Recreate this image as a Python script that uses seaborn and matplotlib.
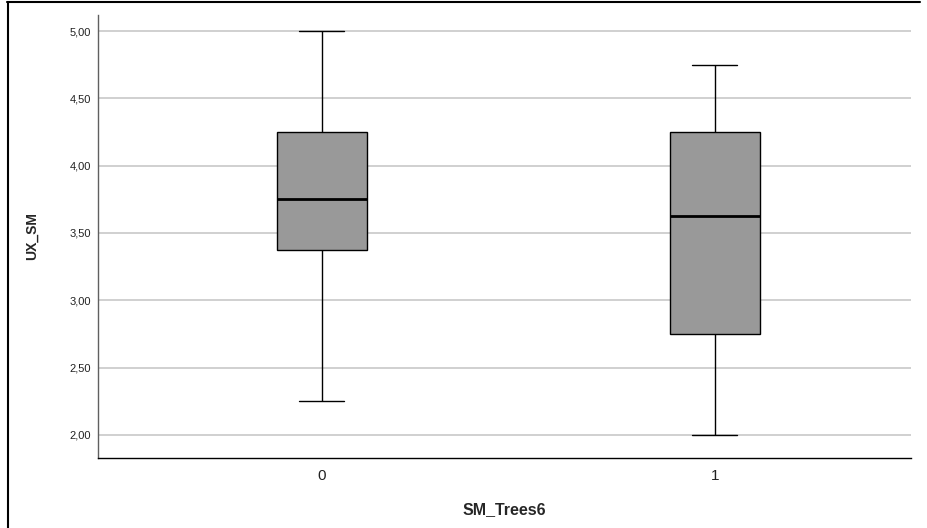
import pandas as pd
import matplotlib.pyplot as plt
import matplotlib.lines as mlines
import seaborn as sns


# ---------------------------------
# DATA
# ---------------------------------

groups = ["0", "1"]

# each list gives min, Q1, median, Q3, max of the box
ux_sm_group0 = [2.25, 3.375, 3.75, 4.25, 5.00]
ux_sm_group1 = [2.00, 2.75, 3.625, 4.25, 4.75]

y_ticks = [2.0, 2.5, 3.0, 3.5, 4.0, 4.5, 5.0]
y_tick_labels = ["2,00", "2,50", "3,00", "3,50", "4,00", "4,50", "5,00"]


# ---------------------------------
# BUILD TABLE
# ---------------------------------

def build_frame():

    rows = []

    for value in ux_sm_group0:
        rows.append({"SM_Trees6": groups[0], "UX_SM": value})

    for value in ux_sm_group1:
        rows.append({"SM_Trees6": groups[1], "UX_SM": value})

    return pd.DataFrame(rows)


# ---------------------------------
# PLOT
# ---------------------------------

def draw_chart(df):

    sns.set_style("white")
    plt.rcParams["font.family"] = ["Liberation Sans", "DejaVu Sans"]

    fig = plt.figure(figsize=(9.28, 5.28), dpi=100)
    ax = fig.add_axes([0.1056, 0.1326, 0.8761, 0.8390])

    ax.set_axisbelow(True)
    ax.yaxis.grid(True, color="#c8c8c8", linewidth=1.2)

    sns.boxplot(
        data=df,
        x="SM_Trees6",
        y="UX_SM",
        order=groups,
        color="#999999",
        saturation=1,
        width=0.229,
        linecolor="black",
        linewidth=1,
        medianprops={"linewidth": 2},
        ax=ax,
    )

    ax.set_xlim(-0.570, 1.499)
    ax.set_ylim(1.829, 5.119)

    ax.set_yticks(y_ticks)
    ax.set_yticklabels(y_tick_labels, fontsize=8, color="#222222")
    ax.tick_params(axis="x", labelsize=11, colors="#222222", length=0, pad=8)
    ax.tick_params(axis="y", length=0, pad=5)

    ax.set_xlabel("SM_Trees6", fontsize=11.5, fontweight="bold", labelpad=14)
    ax.set_ylabel("UX_SM", fontsize=10, fontweight="bold", labelpad=22)

    for side in ["top", "right"]:
        ax.spines[side].set_visible(False)
    ax.spines["left"].set_color("#606060")
    ax.spines["bottom"].set_color("black")
    ax.spines["left"].set_linewidth(1)
    ax.spines["bottom"].set_linewidth(1)

    # outer frame lines, top and left
    fig.add_artist(mlines.Line2D([7 / 928, 920 / 928], [1 - 2 / 528, 1 - 2 / 528],
                                 color="black", linewidth=1.5, transform=fig.transFigure))
    fig.add_artist(mlines.Line2D([8 / 928, 8 / 928], [0, 1 - 2 / 528],
                                 color="black", linewidth=1.5, transform=fig.transFigure))

    fig.savefig("out.png", dpi=100)


# ---------------------------------
# MAIN FUNCTION
# ---------------------------------

def main():

    df = build_frame()

    draw_chart(df)


if __name__ == "__main__":
    main()
